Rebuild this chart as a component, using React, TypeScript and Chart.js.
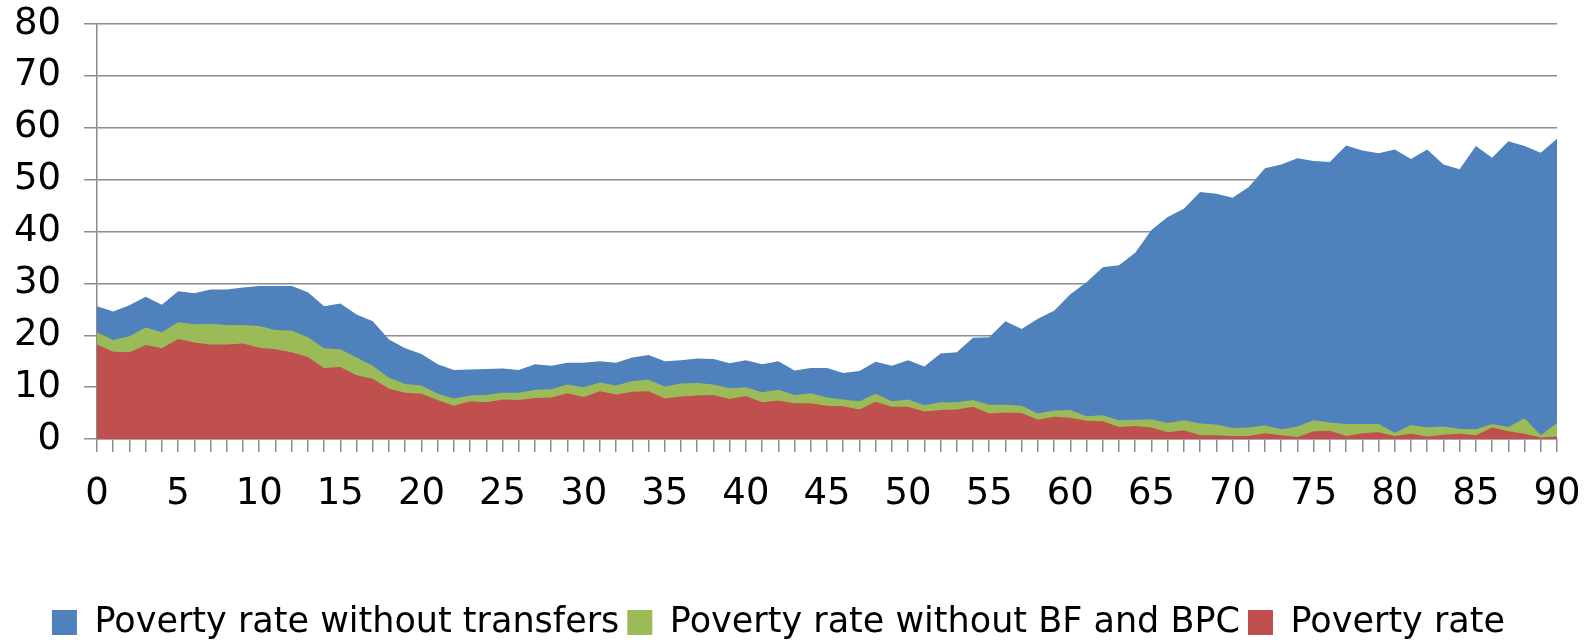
import React, { useEffect, useRef } from "react";
import { Chart, registerables } from "chart.js";

Chart.register(...registerables);

const ages = [
  0, 1, 2, 3, 4, 5, 6, 7, 8, 9, 10, 11, 12, 13, 14, 15, 16, 17, 18, 19, 20,
  21, 22, 23, 24, 25, 26, 27, 28, 29, 30, 31, 32, 33, 34, 35, 36, 37, 38, 39, 40,
  41, 42, 43, 44, 45, 46, 47, 48, 49, 50, 51, 52, 53, 54, 55, 56, 57, 58, 59, 60,
  61, 62, 63, 64, 65, 66, 67, 68, 69, 70, 71, 72, 73, 74, 75, 76, 77, 78, 79, 80,
  81, 82, 83, 84, 85, 86, 87, 88, 89, 90,
];

const withoutTransfers = [
  25.6, 24.6, 25.8, 27.4, 25.9, 28.5, 28.1, 28.8, 28.8, 29.2, 29.5, 29.5, 29.5, 28.3, 25.6, 26.1, 24.0, 22.7, 19.2, 17.5, 16.4, 14.4, 13.3, 13.4, 13.5,
  13.6, 13.3, 14.4, 14.1, 14.7, 14.7, 15.0, 14.7, 15.7, 16.2, 15.0, 15.2, 15.5, 15.4, 14.6, 15.2, 14.4, 15.0, 13.2, 13.7, 13.7, 12.7, 13.1, 14.9, 14.1,
  15.2, 14.0, 16.5, 16.7, 19.5, 19.6, 22.7, 21.2, 23.2, 24.7, 27.9, 30.2, 33.1, 33.5, 35.9, 40.3, 42.8, 44.4, 47.6, 47.3, 46.5,
  48.6, 52.2, 52.9, 54.1, 53.6, 53.4, 56.6, 55.6, 55.1, 55.8, 54.0, 55.8, 52.9, 52.0, 56.5, 54.2, 57.4, 56.5, 55.2, 57.9,
];

const withoutBFandBPC = [
  20.6, 19.1, 19.8, 21.5, 20.6, 22.5, 22.1, 22.2, 22.0, 22.0, 21.8, 21.0, 20.9, 19.6, 17.5, 17.3, 15.7, 14.1, 11.8, 10.6, 10.3, 8.7, 7.8, 8.4, 8.5,
  8.9, 8.9, 9.5, 9.6, 10.5, 10.0, 10.9, 10.3, 11.2, 11.4, 10.1, 10.7, 10.8, 10.5, 9.8, 10.0, 9.0, 9.5, 8.5, 8.8, 8.0, 7.6, 7.3, 8.7, 7.3,
  7.6, 6.5, 7.1, 7.1, 7.5, 6.6, 6.6, 6.4, 4.9, 5.5, 5.6, 4.4, 4.6, 3.6, 3.7, 3.8, 3.1, 3.6, 3.0, 2.8, 2.1,
  2.2, 2.6, 1.9, 2.4, 3.6, 3.2, 2.9, 2.9, 2.9, 1.2, 2.7, 2.2, 2.4, 2.0, 1.9, 2.9, 2.3, 4.0, 0.7, 3.1,
];

const povertyRate = [
  18.2, 16.8, 16.7, 18.1, 17.5, 19.3, 18.6, 18.2, 18.2, 18.4, 17.6, 17.3, 16.7, 15.8, 13.7, 13.9, 12.3, 11.6, 9.7, 8.9, 8.7, 7.5, 6.4, 7.3, 7.1,
  7.6, 7.5, 7.9, 8.0, 8.8, 8.1, 9.2, 8.6, 9.1, 9.2, 7.8, 8.2, 8.4, 8.5, 7.7, 8.3, 7.1, 7.4, 6.9, 6.9, 6.4, 6.3, 5.7, 7.2, 6.2,
  6.2, 5.3, 5.6, 5.7, 6.2, 4.9, 5.1, 5.0, 3.7, 4.3, 4.1, 3.5, 3.4, 2.3, 2.5, 2.2, 1.3, 1.7, 0.7, 0.7, 0.6,
  0.6, 1.1, 0.7, 0.4, 1.5, 1.6, 0.6, 1.1, 1.3, 0.6, 1.0, 0.5, 0.8, 1.0, 0.7, 2.2, 1.5, 1.0, 0.3, 0.5,
];

const seriesNames = [
  "Poverty rate without transfers",
  "Poverty rate without BF and BPC",
  "Poverty rate",
];

const FONT = "'DejaVu Sans', sans-serif";
const GRID = "#8c8c8c";

export default function App() {
  const ref = useRef<HTMLCanvasElement | null>(null);

  useEffect(() => {
    if (!ref.current) return;
    const chart = new Chart(ref.current, {
      type: "line",
      data: {
        labels: ages.map(String),
        datasets: [
          {
            label: seriesNames[0],
            data: withoutTransfers,
            backgroundColor: "#4F81BD",
            borderColor: "#4F81BD",
            borderWidth: 0,
            pointRadius: 0,
            fill: "origin",
            order: 3,
          },
          {
            label: seriesNames[1],
            data: withoutBFandBPC,
            backgroundColor: "#9BBB59",
            borderColor: "#9BBB59",
            borderWidth: 0,
            pointRadius: 0,
            fill: "origin",
            order: 2,
          },
          {
            label: seriesNames[2],
            data: povertyRate,
            backgroundColor: "#C0504D",
            borderColor: "#C0504D",
            borderWidth: 0,
            pointRadius: 0,
            fill: "origin",
            order: 1,
          },
        ],
      },
      options: {
        responsive: false,
        animation: false,
        layout: { padding: { left: 0, right: 36, top: 24, bottom: 0 } },
        plugins: {
          tooltip: { enabled: false },
          legend: {
            position: "bottom",
            labels: {
              boxWidth: 25,
              boxHeight: 25,
              padding: 8,
              color: "#000",
              font: { family: FONT, size: 35 },
              sort: (a: any, b: any) => a.datasetIndex - b.datasetIndex,
            },
          },
        },
        scales: {
          x: {
            type: "category",
            offset: false,
            afterFit: (scale: any) => {
              scale.height = 158;
              scale.paddingLeft = 0;
              scale.paddingRight = 0;
            },
            grid: {
              display: true,
              drawOnChartArea: false,
              drawTicks: true,
              tickLength: 13,
              color: GRID,
              lineWidth: 1.5,
            },
            border: { display: true, color: GRID, width: 1.5 },
            ticks: {
              autoSkip: false,
              maxRotation: 0,
              minRotation: 0,
              padding: 20,
              color: "#000",
              font: { family: FONT, size: 37 },
              callback: (_v: any, i: number) => (ages[i] % 5 === 0 ? String(ages[i]) : ""),
            },
          },
          y: {
            min: 0,
            max: 80,
            afterFit: (scale: any) => {
              scale.width = 97;
              scale.paddingTop = 0;
              scale.paddingBottom = 0;
            },
            grid: {
              display: true,
              drawTicks: true,
              tickLength: 13,
              color: GRID,
              lineWidth: 1.5,
            },
            border: { display: true, color: GRID, width: 1.5 },
            ticks: {
              stepSize: 10,
              padding: 23,
              color: "#000",
              font: { family: FONT, size: 37 },
            },
          },
        },
      },
    });
    return () => chart.destroy();
  }, []);

  return (
    <div style={{ position: "fixed", left: 0, top: 0, width: 1593, height: 650, overflow: "hidden" }}>
      <canvas ref={ref} width={1593} height={650} style={{ display: "block" }} />
    </div>
  );
}
